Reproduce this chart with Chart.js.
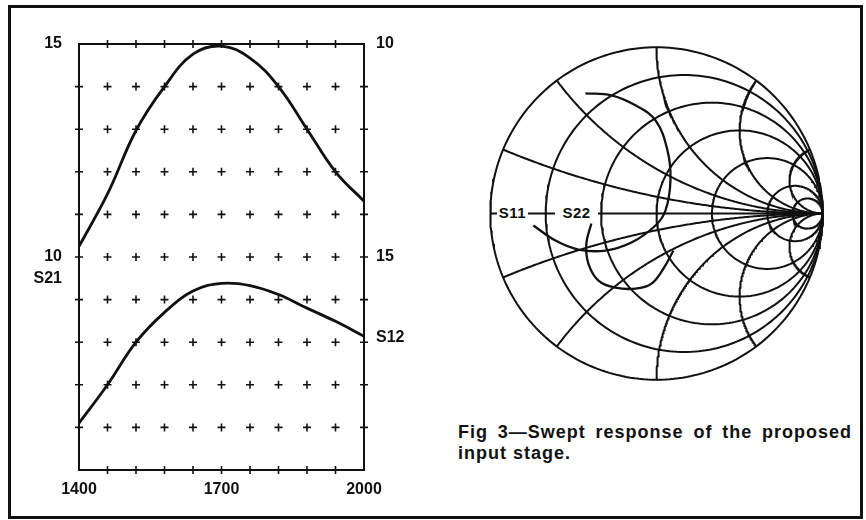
<!DOCTYPE html>
<html>
<head>
<meta charset="utf-8">
<script src="https://cdn.jsdelivr.net/npm/chart.js@4.4.0/dist/chart.umd.min.js"></script>
<style>
  html, body { margin: 0; padding: 0; background: #fff; }
  #page { position: relative; width: 866px; height: 520px; overflow: hidden; background: #fff; }
  #frame { position: absolute; left: 8px; top: 5px; width: 855px; height: 514px; box-sizing: border-box; border: 3px solid #111; }
  #sweep { position: absolute; left: 0; top: 0; }
  #smith { position: absolute; left: 482px; top: 39px; }
  .tag { position: absolute; top: 204px; height: 18px; background: #fff; color: #111; text-align: center;
         font: bold 15px "Liberation Sans", Arial, sans-serif; line-height: 18px; letter-spacing: 0.5px; }
  #caption { position: absolute; left: 458px; top: 422px; width: 394px; color: #111;
             font: bold 18px "Liberation Sans", Arial, sans-serif; line-height: 21px; letter-spacing: 1px; text-align: justify; }
</style>
</head>
<body>
<div id="page">
  <div id="frame"></div>
  <canvas id="sweep" width="440" height="520"></canvas>
  <canvas id="smith" width="349" height="349"></canvas>
  <div class="tag" style="left:497px;width:31px;">S11</div>
  <div class="tag" style="left:555px;width:43px;">S22</div>
  <div id="caption">Fig 3—Swept response of the proposed input stage.</div>
</div>
<script>
// sweep frequency, MHz
const freqs = [1400, 1460, 1520, 1580, 1640, 1700, 1760, 1820, 1880, 1940, 2000];
// S21, dB (left scale)
const s21 = [10.25, 11.48, 12.97, 14.0, 14.76, 14.95, 14.67, 14.0, 13.0, 12.0, 11.31];
// S12, dB (right scale, counts downward)
const s12 = [18.9, 18.0, 17.0, 16.3, 15.8, 15.62, 15.67, 15.88, 16.2, 16.51, 16.86];

// grid of crosses
const gridFreqs = [1400, 1460, 1520, 1580, 1640, 1700, 1760, 1820, 1880, 1940, 2000];
const gridLevels = [5, 6, 7, 8, 9, 10, 11, 12, 13, 14, 15];

// tick labels
const freqTicks = [1400, 1700, 2000];
const leftTicks = [15, 10, 9.5];
const leftLabels = ['15', '10', 'S21'];
const rightTicks = [10, 15, 16.9];
const rightLabels = ['10', '15', 'S12'];

// Smith chart grid
const rCircles = [0, 0.2, 0.5, 1, 2, 5, 10];
const xArcs = [0.2, 0.5, 1, 2, 5, -0.2, -0.5, -1, -2, -5];

// reflection coefficients, [re, im]
const s11 = [[-0.741, -0.072], [-0.608, -0.163], [-0.470, -0.217], [-0.307, -0.223], [-0.151, -0.175],
             [-0.006, -0.072], [0.054, 0.018], [0.084, 0.199], [0.066, 0.380], [-0.006, 0.560],
             [-0.127, 0.651], [-0.271, 0.711], [-0.428, 0.723]];
const s22 = [[-0.392, -0.060], [-0.422, -0.181], [-0.410, -0.301], [-0.349, -0.404], [-0.247, -0.446],
             [-0.127, -0.452], [-0.030, -0.422], [0.042, -0.331], [0.102, -0.223]];

const ink = '#111';
const tickFont = { family: '"Liberation Sans", Arial, sans-serif', size: 16, weight: 'bold' };

// crosses at every grid point except the corners
let crosses = [];
for (let i = 0; i < gridFreqs.length; i++) {
  for (let j = 0; j < gridLevels.length; j++) {
    let edgeX = (i == 0 || i == gridFreqs.length - 1);
    let edgeY = (j == 0 || j == gridLevels.length - 1);
    if (edgeX && edgeY) continue;
    crosses.push({ x: gridFreqs[i], y: gridLevels[j] });
  }
}

function pairs(xs, ys) {
  return xs.map((v, i) => ({ x: v, y: ys[i] }));
}

new Chart(document.getElementById('sweep'), {
  type: 'scatter',
  data: {
    datasets: [
      { label: 'grid', data: crosses, pointStyle: 'cross', pointRadius: 4, borderColor: ink, borderWidth: 1.6, clip: false, yAxisID: 'y' },
      { label: 'S21', data: pairs(freqs, s21), showLine: true, pointRadius: 0, borderColor: ink, borderWidth: 2.8,
        tension: 0.4, yAxisID: 'y' },
      { label: 'S12', data: pairs(freqs, s12), showLine: true, pointRadius: 0, borderColor: ink, borderWidth: 2.8,
        tension: 0.4, yAxisID: 'y2' }
    ]
  },
  options: {
    responsive: false,
    animation: false,
    events: [],
    layout: { padding: 0 },
    plugins: { legend: { display: false }, tooltip: { enabled: false } },
    scales: {
      x: {
        type: 'linear', position: 'bottom', min: 1400, max: 2000,
        grid: { display: false, drawTicks: false }, border: { color: ink, width: 2 },
        ticks: { font: tickFont, color: ink, padding: 10, maxRotation: 0, callback: v => String(v) },
        afterBuildTicks: s => { s.ticks = freqTicks.map(v => ({ value: v })); },
        afterFit: s => { s.height = 50; }
      },
      xTop: {
        type: 'linear', position: 'top', min: 1400, max: 2000,
        grid: { display: false, drawTicks: false }, border: { color: ink, width: 2 },
        ticks: { display: false },
        afterFit: s => { s.height = 44; }
      },
      y: {
        type: 'linear', position: 'left', min: 5, max: 15,
        grid: { display: false, drawTicks: false }, border: { color: ink, width: 2 },
        ticks: { font: tickFont, color: ink, padding: 17, callback: (v, i) => leftLabels[i] },
        afterBuildTicks: s => { s.ticks = leftTicks.map(v => ({ value: v })); },
        afterFit: s => { s.width = 79; }
      },
      y2: {
        type: 'linear', position: 'right', min: 10, max: 20, reverse: true,
        grid: { display: false, drawTicks: false }, border: { color: ink, width: 2 },
        ticks: { font: tickFont, color: ink, padding: 12, callback: (v, i) => rightLabels[i] },
        afterBuildTicks: s => { s.ticks = rightTicks.map(v => ({ value: v })); },
        afterFit: s => { s.width = 76; }
      }
    }
  }
});

// Smith chart lines
function gamma(r, x) {
  let den = (r + 1) * (r + 1) + x * x;
  return { x: (r * r - 1 + x * x) / den, y: 2 * x / den };
}

let smithSets = [];
rCircles.forEach(r => {
  let c = r / (1 + r), rad = 1 / (1 + r), pts = [];
  for (let k = 0; k <= 240; k++) {
    let a = k / 240 * 2 * Math.PI;
    pts.push({ x: c + rad * Math.cos(a), y: rad * Math.sin(a) });
  }
  smithSets.push({ data: pts, showLine: true, pointRadius: 0, borderColor: ink, borderWidth: 2 });
});
xArcs.forEach(xv => {
  let pts = [];
  for (let k = 0; k <= 200; k++) {
    let t = k / 200 * (Math.PI / 2 - 0.004);
    pts.push(gamma(Math.tan(t), xv));
  }
  smithSets.push({ data: pts, showLine: true, pointRadius: 0, borderColor: ink, borderWidth: 2 });
});
smithSets.push({ data: [{ x: -1, y: 0 }, { x: 1, y: 0 }], showLine: true, pointRadius: 0, borderColor: ink, borderWidth: 2 });
[s11, s22].forEach(s => {
  smithSets.push({ data: s.map(p => ({ x: p[0], y: p[1] })), showLine: true, pointRadius: 0,
                   borderColor: ink, borderWidth: 2.3, tension: 0.4 });
});

new Chart(document.getElementById('smith'), {
  type: 'scatter',
  data: { datasets: smithSets },
  options: {
    responsive: false,
    animation: false,
    events: [],
    layout: { padding: 0 },
    plugins: { legend: { display: false }, tooltip: { enabled: false } },
    scales: {
      x: { type: 'linear', min: -1.05, max: 1.05, display: false },
      y: { type: 'linear', min: -1.05, max: 1.05, display: false }
    }
  }
});
</script>
</body>
</html>
